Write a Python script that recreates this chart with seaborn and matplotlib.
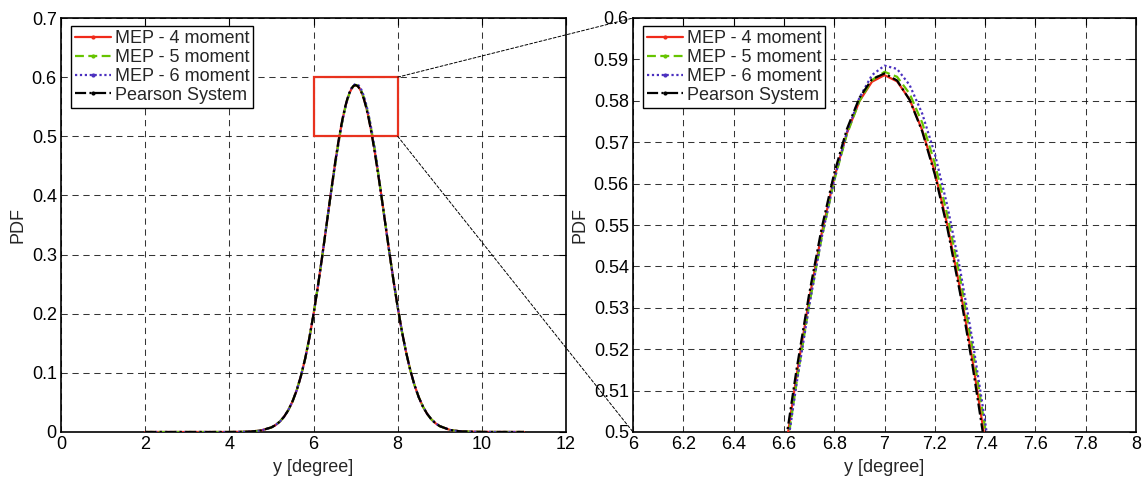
import numpy as np
import pandas as pd
import matplotlib
matplotlib.use("Agg")
import matplotlib.pyplot as plt
import seaborn as sns
from matplotlib.patches import Rectangle, ConnectionPatch
from matplotlib.lines import Line2D
from matplotlib.ticker import FuncFormatter

# ---------------- data ----------------
y_tail_left = [2.0, 3.0, 4.0, 4.25, 4.5, 4.75, 5.0, 5.1, 5.2, 5.3, 5.4, 5.5, 5.6,
               5.7, 5.8, 5.9, 6.0, 6.1, 6.2, 6.3, 6.4]
pdf_tail_left = [0.0, 0.0, 0.0, 0.0002, 0.0007, 0.0025, 0.0078, 0.0118, 0.0176,
                 0.0258, 0.0368, 0.0515, 0.0704, 0.0943, 0.1235, 0.1584, 0.1988,
                 0.2441, 0.2935, 0.3451, 0.3972]

y_core = [6.50, 6.55, 6.60, 6.65, 6.70, 6.75, 6.80, 6.85, 6.90, 6.95, 7.00,
          7.05, 7.10, 7.15, 7.20, 7.25, 7.30, 7.35, 7.40, 7.45, 7.50]
pdf_mep4_core = [0.4474, 0.4709, 0.4931, 0.5135, 0.5319, 0.5479, 0.5614, 0.5721,
                 0.5799, 0.5846, 0.5862, 0.5847, 0.5803, 0.5729, 0.5628, 0.5500,
                 0.5348, 0.5173, 0.4979, 0.4768, 0.4542]
pdf_mep5_core = [0.4451, 0.4688, 0.4912, 0.5118, 0.5305, 0.5468, 0.5607, 0.5718,
                 0.5799, 0.5850, 0.5870, 0.5858, 0.5817, 0.5747, 0.5649, 0.5524,
                 0.5375, 0.5202, 0.5010, 0.4800, 0.4576]
pdf_mep6_core = [0.4444, 0.4682, 0.4907, 0.5115, 0.5303, 0.5469, 0.5609, 0.5723,
                 0.5807, 0.5862, 0.5885, 0.5877, 0.5838, 0.5769, 0.5672, 0.5546,
                 0.5395, 0.5221, 0.5025, 0.4812, 0.4584]
pdf_pearson_core = [0.4491, 0.4726, 0.4947, 0.5150, 0.5332, 0.5492, 0.5625, 0.5731,
                    0.5807, 0.5852, 0.5866, 0.5849, 0.5802, 0.5726, 0.5622, 0.5492,
                    0.5337, 0.5160, 0.4963, 0.4749, 0.4521]

y_tail_right = [7.6, 7.7, 7.8, 7.9, 8.0, 8.1, 8.2, 8.3, 8.4, 8.5, 8.6, 8.7, 8.8,
                8.9, 9.0, 9.25, 9.5, 10.0, 11.0]
pdf_tail_right = [0.4060, 0.3555, 0.3051, 0.2565, 0.2113, 0.1705, 0.1349, 0.1045,
                  0.0793, 0.0590, 0.0430, 0.0307, 0.0215, 0.0147, 0.0099, 0.0033,
                  0.0010, 0.0001, 0.0]

series_names = ["MEP - 4 moment", "MEP - 5 moment", "MEP - 6 moment", "Pearson System"]
series_core = [pdf_mep4_core, pdf_mep5_core, pdf_mep6_core, pdf_pearson_core]

zoom_x = [6, 8]
zoom_y = [0.5, 0.6]
left_xticks = [0, 2, 4, 6, 8, 10, 12]
left_yticks = [0, 0.1, 0.2, 0.3, 0.4, 0.5, 0.6, 0.7]
right_xticks = [6, 6.2, 6.4, 6.6, 6.8, 7, 7.2, 7.4, 7.6, 7.8, 8]
right_yticks = [0.5, 0.51, 0.52, 0.53, 0.54, 0.55, 0.56, 0.57, 0.58, 0.59, 0.6]

# ---------------- styling ----------------
colors = ["#f02a1a", "#66c400", "#4a2fbf", "#000000"]
styles = ["-", (0, (4, 2)), (0, (1, 1.2)), (0, (5, 1.5, 1, 1.5))]
FS = 13

frames = []
for name, core in zip(series_names, series_core):
    frames.append(pd.DataFrame({
        "y": y_tail_left + y_core + y_tail_right,
        "pdf": pdf_tail_left + core + pdf_tail_right,
        "series": name,
    }))
df = pd.concat(frames, ignore_index=True)

sns.set_theme(style="white")
plt.rcParams["font.family"] = ["Liberation Sans", "DejaVu Sans"]

fig = plt.figure(figsize=(11.43, 4.82), dpi=100)
ax1 = fig.add_axes([61 / 1143, 50 / 482, 505 / 1143, 414 / 482])
ax2 = fig.add_axes([633 / 1143, 50 / 482, 503 / 1143, 414 / 482])

for ax in (ax1, ax2):
    for i, name in enumerate(series_names):
        sub = df[df["series"] == name]
        sns.lineplot(data=sub, x="y", y="pdf", ax=ax, color=colors[i],
                     linestyle=styles[i], linewidth=1.6, legend=False,
                     zorder=3 + i, sort=True, estimator=None)

def fmt(v, pos):
    return "%g" % round(v, 4)

ax1.set_xlim(0, 12)
ax1.set_ylim(0, 0.7)
ax1.set_xticks(left_xticks)
ax1.set_yticks(left_yticks)
ax2.set_xlim(*zoom_x)
ax2.set_ylim(*zoom_y)
ax2.set_xticks(right_xticks)
ax2.set_yticks(right_yticks)

for ax in (ax1, ax2):
    ax.xaxis.set_major_formatter(FuncFormatter(fmt))
    ax.yaxis.set_major_formatter(FuncFormatter(fmt))
    ax.grid(True, color="#111111", linestyle=(0, (6, 4.5)), linewidth=0.75, alpha=0.85)
    ax.tick_params(direction="in", top=True, right=True, length=5, width=0.8,
                   labelsize=FS, pad=3, colors="black")
    for s in ax.spines.values():
        s.set_color("black")
        s.set_linewidth(1.2)
    ax.set_xlabel("y [degree]", fontsize=FS, labelpad=4)
    ax.set_ylabel("PDF", fontsize=FS, labelpad=4)
    ax.set_axisbelow(True)

# zoom rectangle
rect = Rectangle((zoom_x[0], zoom_y[0]), zoom_x[1] - zoom_x[0], zoom_y[1] - zoom_y[0],
                 fill=False, edgecolor="#e8321e", linewidth=1.6, zorder=10)
ax1.add_patch(rect)

con1 = ConnectionPatch(xyA=(zoom_x[1], zoom_y[1]), coordsA=ax1.transData,
                       xyB=(0, 1), coordsB=ax2.transAxes,
                       linestyle=(0, (3, 2)), linewidth=0.7, color="black")
con2 = ConnectionPatch(xyA=(zoom_x[1], zoom_y[0]), coordsA=ax1.transData,
                       xyB=(0, 0), coordsB=ax2.transAxes,
                       linestyle=(0, (3, 2)), linewidth=0.7, color="black")
fig.add_artist(con1)
fig.add_artist(con2)

handles = [Line2D([], [], color=colors[i], linestyle=styles[i], linewidth=1.6,
                  marker=".", markersize=4) for i in range(4)]
for ax in (ax1, ax2):
    leg = ax.legend(handles, series_names, loc="upper left",
                    bbox_to_anchor=(0.02, 0.98), fontsize=FS, frameon=True,
                    fancybox=False, edgecolor="black", framealpha=1,
                    labelspacing=0.1, borderpad=0.22, handletextpad=0.2,
                    handlelength=2.0, borderaxespad=0)
    leg.get_frame().set_linewidth(1.0)
    leg.set_zorder(20)

fig.savefig("out.png", dpi=100)
